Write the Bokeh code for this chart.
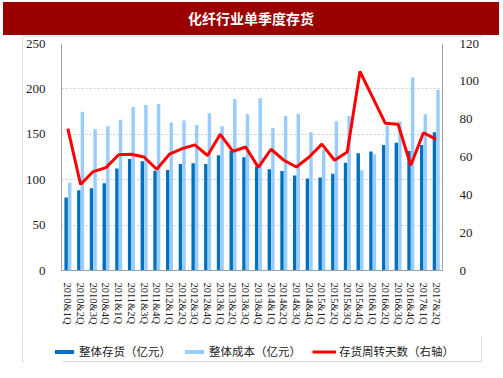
from bokeh.plotting import figure
from bokeh.models import (ColumnDataSource, FactorRange, Range1d, LinearAxis,
                          Legend, LegendItem, Div, FixedTicker)
from bokeh.layouts import column
from bokeh.transform import dodge
from bokeh.embed import file_html
from bokeh.resources import INLINE

title_text = "化纤行业单季度存货"

quarters = ["2010&1Q", "2010&2Q", "2010&3Q", "2010&4Q",
            "2011&1Q", "2011&2Q", "2011&3Q", "2011&4Q",
            "2012&1Q", "2012&2Q", "2012&3Q", "2012&4Q",
            "2013&1Q", "2013&2Q", "2013&3Q", "2013&4Q",
            "2014&1Q", "2014&2Q", "2014&3Q", "2014&4Q",
            "2015&1Q", "2015&2Q", "2015&3Q", "2015&4Q",
            "2016&1Q", "2016&2Q", "2016&3Q", "2016&4Q",
            "2017&1Q", "2017&2Q"]

inventory = [80.5, 88.5, 90.5, 96.0, 112.3, 122.8, 120.3, 109.8,
             110.6, 117.2, 118.0, 117.2, 126.8, 131.7, 124.6, 114.5,
             111.5, 109.7, 104.7, 101.4, 102.3, 106.6, 118.6, 129.2,
             131.0, 138.2, 140.8, 131.7, 138.2, 152.2]

cost = [96.6, 174.8, 155.5, 159.0, 166.0, 180.0, 182.4, 183.3,
        163.0, 165.2, 160.2, 173.3, 158.8, 189.0, 172.0, 189.6,
        157.0, 170.1, 172.5, 152.3, 133.0, 164.4, 170.1, 110.3,
        128.0, 159.4, 164.2, 212.5, 172.0, 198.9]

days = [75.0, 45.5, 52.3, 54.4, 61.2, 61.5, 60.0, 53.5,
        61.5, 64.4, 66.4, 60.8, 72.0, 63.0, 65.3, 54.5,
        64.1, 58.3, 54.7, 60.0, 66.8, 58.3, 62.7, 105.2,
        91.5, 77.8, 77.3, 55.6, 72.8, 69.3]

legend_labels = ["整体存货（亿元）", "整体成本（亿元）", "存货周转天数（右轴）"]

left_ticks = [0, 50, 100, 150, 200, 250]
right_ticks = [0, 20, 40, 60, 80, 100, 120]

DARK = "#0070C0"
LIGHT = "#99CCFF"
RED = "#FF0000"

src = ColumnDataSource(dict(q=quarters, inv=inventory, cost=cost, days=days))

p = figure(x_range=FactorRange(*quarters), y_range=Range1d(0, 250),
           width=460, height=300, output_backend="svg", toolbar_location=None,
           min_border_left=36, min_border_right=33, min_border_top=7,
           min_border_bottom=66)
p.outline_line_color = None
p.background_fill_color = "white"
p.border_fill_color = "white"

p.extra_y_ranges = {"right": Range1d(0, 120)}

p.vbar(x=dodge("q", -0.135, range=p.x_range), top="inv", width=0.27,
       source=src, fill_color=DARK, line_color=None)
p.vbar(x=dodge("q", 0.145, range=p.x_range), top="cost", width=0.27,
       source=src, fill_color=LIGHT, line_color=None)
p.line(x="q", y="days", source=src, y_range_name="right",
       line_color=RED, line_width=3)

serif = "Liberation Serif"

ya = p.yaxis[0]
ya.ticker = FixedTicker(ticks=left_ticks)
ya.axis_line_color = "#A0A0A0"
ya.major_tick_line_color = None
ya.minor_tick_line_color = None
ya.major_label_text_font = serif
ya.major_label_text_font_size = "13px"
ya.major_label_text_color = "#222222"
ya.major_label_standoff = 10

ra = LinearAxis(y_range_name="right", ticker=FixedTicker(ticks=right_ticks))
ra.axis_line_color = "#A0A0A0"
ra.major_tick_line_color = None
ra.minor_tick_line_color = None
ra.major_label_text_font = serif
ra.major_label_text_font_size = "13px"
ra.major_label_text_color = "#222222"
ra.major_label_standoff = 11
p.add_layout(ra, "right")

xa = p.xaxis[0]
xa.axis_line_color = "#A0A0A0"
xa.major_tick_line_color = None
xa.minor_tick_line_color = None
xa.major_label_orientation = "vertical"
xa.major_label_text_font = serif
xa.major_label_text_font_size = "10.5px"
xa.major_label_text_color = "#222222"
xa.major_label_standoff = 6

p.xgrid.grid_line_color = None
p.ygrid.ticker = FixedTicker(ticks=left_ticks)
p.ygrid.grid_line_color = "#C8C8C8"
p.ygrid.grid_line_dash = "2 2"

# legend strip (separate small figure); its sample glyphs sit outside its ranges
lf = figure(frame_width=458, frame_height=26, output_backend="svg",
            toolbar_location=None,
            x_range=Range1d(0, 1), y_range=Range1d(0, 1),
            x_axis_type=None, y_axis_type=None,
            min_border=0, min_border_left=0, min_border_right=0,
            min_border_top=0, min_border_bottom=0, margin=(0, 0, 0, 1))
lf.outline_line_color = None
lf.grid.grid_line_color = None
lf.border_fill_color = "white"
lf.background_fill_color = None
dummy = ColumnDataSource(dict(x=[5, 6], y=[5, 6]))
g1 = lf.vbar(x="x", top="y", width=0.1, source=dummy, fill_color=DARK, line_color=None)
g2 = lf.vbar(x="x", top="y", width=0.1, source=dummy, fill_color=LIGHT, line_color=None)
g3 = lf.line(x="x", y="y", source=dummy, line_color=RED, line_width=3)

legend = Legend(items=[LegendItem(label=legend_labels[0], renderers=[g1]),
                       LegendItem(label=legend_labels[1], renderers=[g2]),
                       LegendItem(label=legend_labels[2], renderers=[g3])],
                orientation="horizontal", location=(29, 3),
                padding=0, margin=0, spacing=11,
                glyph_width=24, glyph_height=5, label_height=14,
                label_standoff=3, border_line_color=None,
                background_fill_alpha=0,
                label_text_font="Noto Sans CJK SC",
                label_text_font_size="11.5px", label_text_color="#222222")
lf.add_layout(legend, "center")

chart = column(p, lf, margin=(1, 0, 0, 22),
               styles={"outline": "1px solid #d9d9d9", "outline-offset": "-1px"})

title_div = Div(text=('<div style="width:496px;height:33px;background:#9A0000;'
                      'color:#ffffff;font-family:\'Noto Sans CJK SC\';font-weight:bold;'
                      'font-size:14px;text-align:center;line-height:33px;">'
                      + title_text + '</div>'),
                width=496, height=33, margin=(2, 0, 0, 3))

layout = column(title_div, chart)

open("out.html", "w").write(file_html(layout, INLINE))
